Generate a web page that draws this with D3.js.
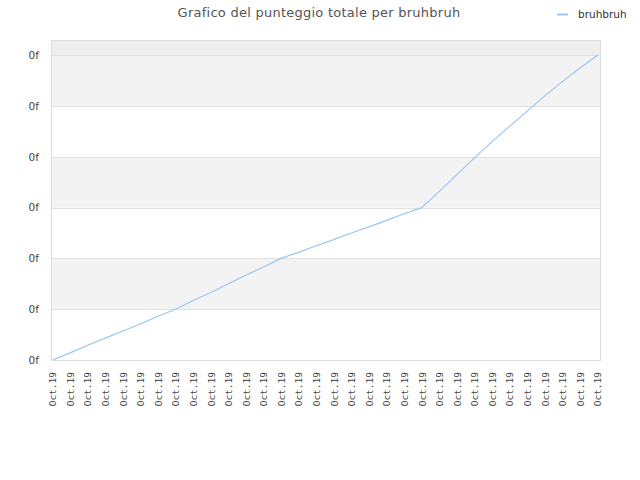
<!DOCTYPE html>
<html>
<head>
<meta charset="utf-8">
<script src="https://cdn.jsdelivr.net/npm/d3@7"></script>
<style>
  body { margin: 0; background: #fff; }
  text { font-family: "DejaVu Sans", sans-serif; }
</style>
</head>
<body>
<div id="chart"></div>
<script>
// x categories (all the same label in the source chart)
const dates = ["Oct.19","Oct.19","Oct.19","Oct.19","Oct.19","Oct.19","Oct.19","Oct.19",
               "Oct.19","Oct.19","Oct.19","Oct.19","Oct.19","Oct.19","Oct.19","Oct.19",
               "Oct.19","Oct.19","Oct.19","Oct.19","Oct.19","Oct.19","Oct.19","Oct.19",
               "Oct.19","Oct.19","Oct.19","Oct.19","Oct.19","Oct.19","Oct.19","Oct.19"];
// cumulative score
const scores = [0, 0.14, 0.29, 0.43, 0.57, 0.71, 0.86, 1.0,
                1.17, 1.33, 1.5, 1.67, 1.83, 2.0, 2.12, 2.25,
                2.37, 2.5, 2.62, 2.75, 2.88, 3.0, 3.32, 3.65,
                3.98, 4.3, 4.6, 4.9, 5.2, 5.48, 5.75, 6.0];
const yTicks = [0, 1, 2, 3, 4, 5, 6];
const yTickLabel = "0f";
const seriesName = "bruhbruh";
const title = "Grafico del punteggio totale per bruhbruh";

const width = 640, height = 480;
const plot = { left: 51, right: 600, top: 40, bottom: 360 };

const svg = d3.select("#chart").append("svg")
  .attr("width", width)
  .attr("height", height);

const x = d3.scalePoint()
  .domain(d3.range(dates.length))
  .range([plot.left + 1.5, plot.right - 2.5]);

const y = d3.scaleLinear()
  .domain([0, 6.3])
  .range([plot.bottom, plot.top]);

// alternating bands between ticks
let bands = [];
for (let i = 0; i < yTicks.length; i++) {
  let lo = yTicks[i];
  let hi = i + 1 < yTicks.length ? yTicks[i + 1] : y.domain()[1];
  let fill = i % 2 === 0 ? "#ffffff" : "#f3f3f3";
  if (i === yTicks.length - 1) fill = "#eeeeee";
  bands.push({ lo: lo, hi: hi, fill: fill });
}
svg.append("g").selectAll("rect")
  .data(bands)
  .enter().append("rect")
  .attr("x", plot.left)
  .attr("width", plot.right - plot.left)
  .attr("y", d => y(d.hi))
  .attr("height", d => y(d.lo) - y(d.hi))
  .attr("fill", d => d.fill);

// gridlines
svg.append("g").selectAll("line")
  .data(yTicks)
  .enter().append("line")
  .attr("x1", plot.left)
  .attr("x2", plot.right)
  .attr("y1", d => Math.round(y(d)) + 0.5)
  .attr("y2", d => Math.round(y(d)) + 0.5)
  .attr("stroke", "#e0e0e0")
  .attr("stroke-width", 1);

// plot border
svg.append("rect")
  .attr("x", plot.left + 0.5)
  .attr("y", plot.top + 0.5)
  .attr("width", plot.right - plot.left)
  .attr("height", plot.bottom - plot.top)
  .attr("fill", "none")
  .attr("stroke", "#dddddd");

// y axis labels
const yAxis = d3.axisLeft(y)
  .tickValues(yTicks)
  .tickSize(0)
  .tickPadding(12)
  .tickFormat(() => yTickLabel);
svg.append("g")
  .attr("transform", "translate(" + plot.left + ",0)")
  .call(yAxis)
  .call(g => g.select(".domain").remove())
  .selectAll("text")
  .attr("fill", "#444")
  .style("font-size", "10.5px");

// x axis labels
const xAxis = d3.axisBottom(x)
  .tickSize(0)
  .tickPadding(0)
  .tickFormat(i => dates[i]);
svg.append("g")
  .attr("transform", "translate(0," + (plot.bottom + 12) + ")")
  .call(xAxis)
  .call(g => g.select(".domain").remove())
  .selectAll("text")
  .attr("fill", "#444")
  .style("font-family", "'DejaVu Sans Mono', monospace")
  .style("font-size", "9.5px")
  .attr("text-anchor", "end")
  .attr("dy", "0.35em")
  .attr("x", 0)
  .attr("y", 0)
  .attr("transform", "rotate(-90)");

// the line
const line = d3.line()
  .x((d, i) => x(i))
  .y(d => y(d));
svg.append("path")
  .datum(scores)
  .attr("d", line)
  .attr("fill", "none")
  .attr("stroke", "#99c6f3")
  .attr("stroke-width", 1.2);

// title
svg.append("text")
  .attr("x", 319)
  .attr("y", 17)
  .attr("text-anchor", "middle")
  .attr("fill", "#555")
  .style("font-size", "13px")
  .style("letter-spacing", "0.25px")
  .text(title);

// legend
svg.append("line")
  .attr("x1", 557).attr("x2", 568)
  .attr("y1", 14.5).attr("y2", 14.5)
  .attr("stroke", "#99c6f3")
  .attr("stroke-width", 2);
svg.append("text")
  .attr("x", 578)
  .attr("y", 18)
  .attr("fill", "#333")
  .style("font-size", "10.5px")
  .text(seriesName);
</script>
</body>
</html>
